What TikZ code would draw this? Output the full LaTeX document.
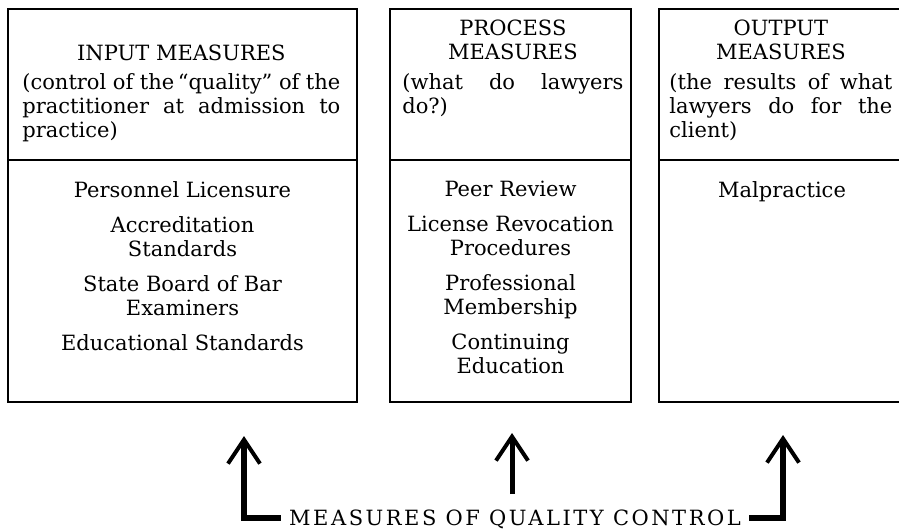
\documentclass[tikz,border=0pt]{standalone}
\usepackage{fontspec}
\setmainfont{DejaVu Serif}
\newfontfamily\spacedfont[LetterSpace=12]{DejaVu Serif}
\usepackage{tikz}
\usetikzlibrary{arrows.meta,positioning}

\tikzset{
  frame/.style={draw, line width=1pt, outer sep=0pt, inner sep=0pt},
  headtext/.style={anchor=north west, inner sep=0pt, align=justify,
    font=\fontsize{10.5}{12}\selectfont},
  itemtext/.style={anchor=north, inner sep=0pt, align=center,
    font=\fontsize{10.5}{12}\selectfont},
  leg/.style={line width=3pt,
    -{Straight Barb[length=12pt,width=16pt,line width=2pt]}},
}

\begin{document}
\begin{tikzpicture}[x=0.5pt,y=-0.5pt]
\useasboundingbox (0,0) rectangle (899,530);
\clip (0,0) rectangle (899,530);

% the three columns, each a head part and a body part
\node[frame, anchor=north west, minimum width=174.5pt, minimum height=75.75pt] (inhead) at (8,8.5) {};
\node[frame, below=0pt of inhead, minimum width=174.5pt, minimum height=121pt] (inbody) {};
\node[frame, anchor=north west, minimum width=120.5pt, minimum height=75.75pt] (prochead) at (390,8.5) {};
\node[frame, below=0pt of prochead, minimum width=120.5pt, minimum height=121pt] (procbody) {};
\node[frame, anchor=north west, minimum width=120.5pt, minimum height=75.75pt] (outhead) at (659,8.5) {};
\node[frame, below=0pt of outhead, minimum width=120.5pt, minimum height=121pt] (outbody) {};

\node[headtext, text width=159pt] (intext) at (22,44.7) {
{\centering INPUT MEASURES\par}\vspace{2.5pt}
(control of the\,“quality” of the\linebreak practitioner at admission to\linebreak practice)};
\node[headtext, text width=110.5pt] (proctext) at (402,19.7) {
{\centering PROCESS\\ MEASURES\par}\vspace{3pt}
(what do lawyers\linebreak do?)};
\node[headtext, text width=111.5pt] (outtext) at (669,19.7) {
{\centering OUTPUT\\ MEASURES\par}\vspace{3pt}
(the results of what\linebreak lawyers do for the\linebreak client)};

\node[itemtext] (initems) at (182.5,181) {
Personnel Licensure\\[5.5pt]
Accreditation\\ Standards\\[5.5pt]
State Board of Bar\\ Examiners\\[5.5pt]
Educational Standards};
\node[itemtext] (procitems) at (510.5,181) {
Peer Review\\[5.5pt]
License Revocation\\ Procedures\\[5.5pt]
Professional\\ Membership\\[5.5pt]
Continuing\\ Education};
\node[itemtext] (outitems) at (782,181) {Malpractice};

% label and the arrows pointing up to the columns
\node[font=\spacedfont\fontsize{10.5}{12}\selectfont, inner xsep=4pt, inner ysep=0pt, text depth=0pt] (label) at (515,517.5) {MEASURES OF QUALITY CONTROL};
\coordinate (inup) at (244,436);
\coordinate (procup) at (512,433);
\coordinate (procfoot) at (512,494);
\coordinate (outup) at (783,435);
\draw[leg] (label.west) -| (inup);
\draw[leg] (label.east) -| (outup);
\draw[leg, line width=2.5pt] (procfoot) -- (procup);
\end{tikzpicture}
\end{document}
